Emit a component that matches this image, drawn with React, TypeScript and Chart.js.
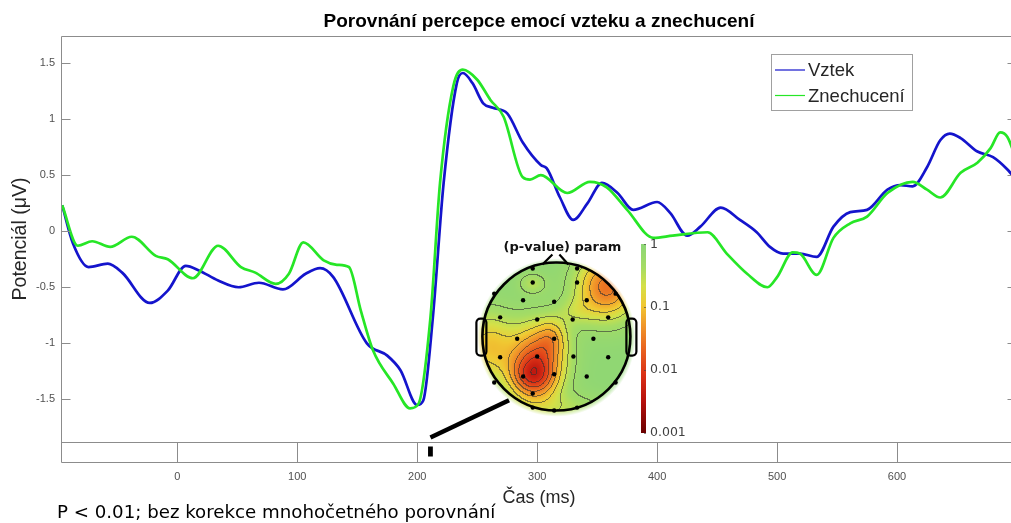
import React, { useEffect, useRef } from 'react';
import { Chart, registerables } from 'chart.js';

Chart.register(...registerables);

// ---------------- data ----------------
const chartTitle = 'Porovnání percepce emocí vzteku a znechucení';
const xAxisLabel = 'Čas (ms)';
const yAxisLabel = 'Potenciál (μV)';
const footnote = 'P < 0.01; bez korekce mnohočetného porovnání';
const seriesNames = ['Vztek', 'Znechucení'];

const vztekTime = [-96, -87, -74, -58, -46, -23, -8, 7, 18, 34, 51, 68, 88, 107, 119, 130, 158, 175, 186, 200, 205, 213, 222, 233, 238, 246, 255, 263, 275, 288, 303, 308, 319, 330, 342, 354, 367, 380, 400, 411, 425, 436, 453, 469, 483, 494, 505, 519, 533, 547, 561, 575, 592, 603, 613, 625, 636, 644, 653, 667, 680, 692, 700];
const vztekValues = [0.23, -0.11, -0.32, -0.29, -0.37, -0.64, -0.53, -0.31, -0.35, -0.44, -0.5, -0.46, -0.52, -0.38, -0.33, -0.41, -1.0, -1.11, -1.24, -1.55, -1.51, -0.77, 0.43, 1.32, 1.41, 1.32, 1.14, 1.1, 1.05, 0.79, 0.59, 0.56, 0.3, 0.1, 0.25, 0.43, 0.34, 0.19, 0.26, 0.16, -0.04, 0.04, 0.21, 0.1, -0.01, -0.14, -0.2, -0.2, -0.23, 0.04, 0.17, 0.19, 0.37, 0.41, 0.4, 0.57, 0.81, 0.87, 0.83, 0.71, 0.66, 0.55, 0.45];

const znechuceniTime = [-96, -83, -71, -56, -38, -18, -8, 13, 34, 53, 65, 82, 93, 105, 122, 133, 143, 153, 163, 180, 194, 201, 211, 219, 230, 238, 250, 261, 272, 288, 294, 303, 325, 344, 358, 375, 397, 413, 442, 458, 475, 492, 500, 513, 519, 533, 547, 561, 575, 592, 613, 625, 636, 653, 667, 678, 686, 692, 700];
const znechuceniValues = [0.23, -0.13, -0.09, -0.14, -0.05, -0.22, -0.25, -0.42, -0.13, -0.32, -0.37, -0.47, -0.38, -0.1, -0.26, -0.3, -0.32, -0.71, -1.06, -1.36, -1.58, -1.54, -0.77, 0.43, 1.29, 1.44, 1.35, 1.17, 1.02, 0.48, 0.46, 0.5, 0.34, 0.44, 0.39, 0.19, -0.06, -0.04, -0.01, -0.2, -0.38, -0.5, -0.41, -0.19, -0.2, -0.39, -0.06, 0.07, 0.13, 0.34, 0.44, 0.37, 0.3, 0.52, 0.61, 0.74, 0.88, 0.84, 0.62];

const xTicks = [0, 100, 200, 300, 400, 500, 600];
const yTicks = [-1.5, -1, -0.5, 0, 0.5, 1, 1.5];
const xRange = [-97, 700];
const yRange = [-1.88, 1.74];
const significantWindows = [[209, 213]];
const topoTitle = '(p-value) param';
const insetCenter = [316, -0.94];
const colorbarTicks = [1, 0.1, 0.01, 0.001];
const colorbarLabels = ['1', '0.1', '0.01', '0.001'];

// ---------------- styling helpers ----------------
const SANS = '"Liberation Sans", Arial, Helvetica, sans-serif';
const VERDANA = '"DejaVu Sans", Verdana, sans-serif';
const FRAME = '#8c8c8c';
const BLUE = '#1414cc';
const GREEN = '#26e626';

type RGB = [number, number, number];
const pStops: Array<[number, RGB]> = [
  [0, [140, 214, 118]],
  [0.12, [165, 220, 100]],
  [0.22, [212, 224, 72]],
  [0.32, [240, 200, 50]],
  [0.43, [240, 150, 42]],
  [0.56, [232, 96, 30]],
  [0.69, [218, 48, 22]],
  [0.83, [182, 16, 12]],
  [1, [105, 0, 0]],
];
function pColor(t: number): RGB {
  const tt = Math.max(0, Math.min(1, t));
  for (let i = 1; i < pStops.length; i++) {
    if (tt <= pStops[i][0]) {
      const [t0, c0] = pStops[i - 1];
      const [t1, c1] = pStops[i];
      const k = (tt - t0) / (t1 - t0);
      return [0, 1, 2].map((j) => Math.round(c0[j] + (c1[j] - c0[j]) * k)) as RGB;
    }
  }
  return pStops[pStops.length - 1][1];
}

function topoLogP(u: number, v: number): number {
  const bumps = [
    [-0.32, 0.55, 0.22, 0.2, -1.25],
    [-0.26, 0.26, 0.26, 0.32, -1.45],
    [-0.05, 0.0, 0.14, 0.18, -0.55],
    [-0.92, 0.12, 0.25, 0.32, -0.9],
    [0.68, -0.68, 0.28, 0.3, -1.5],
    [0.26, -0.35, 0.18, 0.13, -0.3],
    [0.0, 0.97, 0.5, 0.15, -0.4],
    [-0.32, -0.73, 0.13, 0.1, -0.4],
  ];
  let f = -0.05;
  for (const [bu, bv, su, sv, a] of bumps) {
    f += a * Math.exp(-(((u - bu) ** 2) / (2 * su * su) + ((v - bv) ** 2) / (2 * sv * sv)));
  }
  return Math.max(-3, Math.min(0, f));
}

let topoCache: HTMLCanvasElement | null = null;
function topoImage(r: number): HTMLCanvasElement {
  if (topoCache) return topoCache;
  const R = Math.ceil(r * 1.08);
  const S = 2 * R + 1;
  const off = document.createElement('canvas');
  off.width = S;
  off.height = S;
  const octx = off.getContext('2d')!;
  const img = octx.createImageData(S, S);
  const field = new Float32Array(S * S);
  for (let j = 0; j < S; j++) for (let i = 0; i < S; i++) field[j * S + i] = topoLogP((i - R) / r, (j - R) / r);
  const lvl = (f: number) => Math.floor((-f + 0.05) / 0.3);
  for (let j = 0; j < S; j++) {
    for (let i = 0; i < S; i++) {
      const u = (i - R) / r, v = (j - R) / r;
      const d = Math.sqrt(u * u + v * v);
      const idx = (j * S + i) * 4;
      if (d > 1.07) { img.data[idx + 3] = 0; continue; }
      const f = field[j * S + i];
      let c = pColor(-f / 3);
      if (d < 1 && i < S - 1 && j < S - 1) {
        const l = lvl(f);
        if (l !== lvl(field[j * S + i + 1]) || l !== lvl(field[(j + 1) * S + i])) {
          c = c.map((x) => Math.round(x * 0.4 + 50 * 0.6)) as RGB;
        }
      }
      const alpha = d <= 1 ? 255 : Math.round(255 * 0.7 * (1.07 - d) / 0.07);
      img.data[idx] = c[0];
      img.data[idx + 1] = c[1];
      img.data[idx + 2] = c[2];
      img.data[idx + 3] = alpha;
    }
  }
  octx.putImageData(img, 0, 0);
  topoCache = off;
  return off;
}

const electrodes: Array<[number, number]> = [
  [-0.32, -0.92], [0.28, -0.92], [-0.32, -0.73], [0.28, -0.73],
  [-0.84, -0.58], [0.8, -0.58], [-0.45, -0.49], [-0.03, -0.47], [0.41, -0.49],
  [-0.76, -0.26], [-0.26, -0.23], [0.22, -0.23], [0.7, -0.26],
  [-0.53, 0.03], [-0.03, 0.03], [0.5, 0.03],
  [-0.76, 0.28], [-0.26, 0.27], [0.23, 0.27], [0.7, 0.28],
  [-0.45, 0.54], [-0.03, 0.51], [0.41, 0.54], [-0.84, 0.62], [0.8, 0.62],
  [-0.32, 0.77], [-0.32, 0.96], [-0.03, 1.0], [0.28, 0.96],
];

const decorPlugin = {
  id: 'matlabDecor',
  afterDraw(chart: any) {
    const { ctx, chartArea: a, scales } = chart;
    const xs = scales.x, ys = scales.y;
    ctx.save();
    const L = Math.round(a.left) + 0.5, R = Math.round(a.right) - 0.5;
    const T = Math.round(a.top) + 0.5, B = Math.round(a.bottom) + 0.5;
    const SB = B + 20;

    // axes frame + strip
    ctx.strokeStyle = FRAME;
    ctx.lineWidth = 1;
    ctx.beginPath();
    ctx.moveTo(L, T); ctx.lineTo(R, T); ctx.lineTo(R, SB); ctx.lineTo(L, SB); ctx.lineTo(L, T);
    ctx.moveTo(L, B); ctx.lineTo(R, B);
    yTicks.forEach((v) => {
      const py = Math.round(ys.getPixelForValue(v)) + 0.5;
      ctx.moveTo(L, py); ctx.lineTo(L + 9, py);
      ctx.moveTo(R, py); ctx.lineTo(R - 9, py);
    });
    xTicks.forEach((v) => {
      const px = Math.round(xs.getPixelForValue(v)) + 0.5;
      ctx.moveTo(px, B); ctx.lineTo(px, SB);
    });
    ctx.stroke();

    // significance markers
    ctx.fillStyle = '#000';
    significantWindows.forEach(([s, e]) => {
      const x0 = xs.getPixelForValue(s), x1 = xs.getPixelForValue(e);
      ctx.fillRect(x0, B + 4, Math.max(x1 - x0, 4), 10);
    });

    // legend
    const lx = Math.round(a.left) + 710, ly = Math.round(a.top) + 18, lw = 141, lh = 56;
    ctx.fillStyle = '#fff';
    ctx.fillRect(lx, ly, lw, lh);
    ctx.strokeStyle = '#a0a0a0';
    ctx.lineWidth = 1;
    ctx.strokeRect(lx + 0.5, ly + 0.5, lw, lh);
    chart.data.datasets.forEach((ds: any, i: number) => {
      const yy = ly + 16 + i * 25.5;
      ctx.strokeStyle = ds.borderColor;
      ctx.lineWidth = 1.2;
      ctx.beginPath();
      ctx.moveTo(lx + 4, yy); ctx.lineTo(lx + 34, yy);
      ctx.stroke();
      ctx.fillStyle = '#262626';
      ctx.font = `18.5px ${SANS}`;
      ctx.textAlign = 'left';
      ctx.textBaseline = 'middle';
      ctx.fillText(ds.label, lx + 37, yy + 1);
    });

    // inset topomap
    const cx = xs.getPixelForValue(insetCenter[0]);
    const cy = ys.getPixelForValue(insetCenter[1]);
    const r = 74;
    const sw = significantWindows[0];
    ctx.strokeStyle = '#000';
    ctx.lineWidth = 4.5;
    ctx.lineCap = 'butt';
    ctx.beginPath();
    ctx.moveTo(xs.getPixelForValue((sw[0] + sw[1]) / 2), B - 5);
    ctx.lineTo(cx - 0.64 * r, cy + 0.86 * r);
    ctx.stroke();

    const img = topoImage(r);
    const half = (img.width - 1) / 2;
    ctx.drawImage(img, Math.round(cx - half), Math.round(cy - half));

    ctx.strokeStyle = '#000';
    ctx.lineWidth = 2.2;
    [-1, 1].forEach((side) => {
      const ex = side < 0 ? cx - r - 6 : cx + r - 4;
      ctx.beginPath();
      ctx.roundRect(ex, cy - 18, 10, 37, 4);
      ctx.stroke();
    });
    ctx.lineWidth = 2.6;
    ctx.beginPath();
    ctx.arc(cx, cy, r, 0, Math.PI * 2);
    ctx.stroke();
    ctx.lineWidth = 2.2;
    ctx.beginPath();
    ctx.moveTo(cx - 14, cy - r + 2); ctx.lineTo(cx - 4, cy - r - 8);
    ctx.moveTo(cx + 3, cy - r - 8); ctx.lineTo(cx + 12, cy - r + 2);
    ctx.stroke();
    ctx.fillStyle = '#000';
    electrodes.forEach(([u, v]) => {
      ctx.beginPath();
      ctx.arc(cx + u * r, cy + v * r, 2.2, 0, Math.PI * 2);
      ctx.fill();
    });

    ctx.fillStyle = '#111';
    ctx.font = `bold 13px ${VERDANA}`;
    ctx.textAlign = 'center';
    ctx.textBaseline = 'middle';
    ctx.fillText(topoTitle, cx + 6, cy - r - 15);

    // colorbar
    const cbX = Math.round(cx + 85), cbTop = Math.round(cy - 93), cbBot = Math.round(cy + 96), cbW = 5;
    for (let y = cbTop; y < cbBot; y++) {
      const c = pColor((y - cbTop) / (cbBot - cbTop));
      ctx.fillStyle = `rgb(${c[0]},${c[1]},${c[2]})`;
      ctx.fillRect(cbX, y, cbW, 1);
    }
    ctx.strokeStyle = 'rgba(60,60,60,0.6)';
    ctx.lineWidth = 1;
    ctx.font = `12.5px ${VERDANA}`;
    ctx.textAlign = 'left';
    ctx.fillStyle = '#404040';
    colorbarTicks.forEach((p, i) => {
      const t = -Math.log10(p) / 3;
      const y = cbTop + t * (cbBot - cbTop);
      ctx.beginPath();
      ctx.moveTo(cbX + cbW - 2, Math.round(y) + 0.5);
      ctx.lineTo(cbX + cbW, Math.round(y) + 0.5);
      ctx.stroke();
      ctx.fillText(colorbarLabels[i], cbX + 9, y + (i === 0 ? 1 : 0));
    });

    // footnote
    ctx.fillStyle = '#000';
    ctx.font = `18.2px ${VERDANA}`;
    ctx.textAlign = 'left';
    ctx.textBaseline = 'alphabetic';
    ctx.fillText(footnote, 57, 518);
    ctx.restore();
  },
};

export default function App() {
  const ref = useRef<HTMLCanvasElement>(null);
  useEffect(() => {
    if (!ref.current) return;
    const chart = new Chart(ref.current, {
      type: 'line',
      data: {
        datasets: [
          {
            label: seriesNames[0],
            data: vztekTime.map((t, i) => ({ x: t, y: vztekValues[i] })),
            borderColor: BLUE,
            borderWidth: 2.7,
            pointRadius: 0,
            cubicInterpolationMode: 'monotone',
            order: 1,
          },
          {
            label: seriesNames[1],
            data: znechuceniTime.map((t, i) => ({ x: t, y: znechuceniValues[i] })),
            borderColor: GREEN,
            borderWidth: 2.7,
            pointRadius: 0,
            cubicInterpolationMode: 'monotone',
            order: 0,
          },
        ],
      },
      options: {
        responsive: false,
        animation: false,
        devicePixelRatio: 1,
        events: [],
        layout: { padding: { left: 0, right: 13, top: 0, bottom: 0 } },
        plugins: {
          legend: { display: false },
          tooltip: { enabled: false },
          title: {
            display: true,
            text: chartTitle,
            fullSize: false,
            color: '#000',
            font: { family: SANS, size: 19, weight: 'bold' },
            padding: { top: 10, bottom: 3.2 },
          },
        },
        scales: {
          x: {
            type: 'linear',
            min: xRange[0],
            max: xRange[1],
            afterBuildTicks: (s: any) => { s.ticks = xTicks.map((v) => ({ value: v })); },
            afterFit: (s: any) => { s.height = 81; },
            grid: { display: false, drawTicks: false },
            border: { display: false },
            ticks: { padding: 28, color: '#505050', font: { family: SANS, size: 11 }, maxRotation: 0, autoSkip: false, callback: (v: any) => String(v) },
            title: { display: true, text: xAxisLabel, color: '#262626', font: { family: SANS, size: 18 }, padding: { top: 4, bottom: 14 } },
          },
          y: {
            type: 'linear',
            min: yRange[0],
            max: yRange[1],
            afterBuildTicks: (s: any) => { s.ticks = yTicks.map((v) => ({ value: v })); },
            afterFit: (s: any) => { s.width = 61; },
            grid: { display: false, drawTicks: false },
            border: { display: false },
            ticks: { padding: 6, color: '#505050', font: { family: SANS, size: 11 }, callback: (v: any) => String(v) },
            title: { display: true, text: yAxisLabel, color: '#262626', font: { family: SANS, size: 19.5 }, padding: { top: 9, bottom: 0 } },
          },
        },
      },
      plugins: [decorPlugin],
    } as any);
    return () => chart.destroy();
  }, []);
  return (
    <div style={{ position: 'absolute', left: 0, top: 0, width: 1011, height: 523, overflow: 'hidden', background: '#fff' }}>
      <canvas ref={ref} width={1030} height={523} style={{ display: 'block' }} />
    </div>
  );
}
